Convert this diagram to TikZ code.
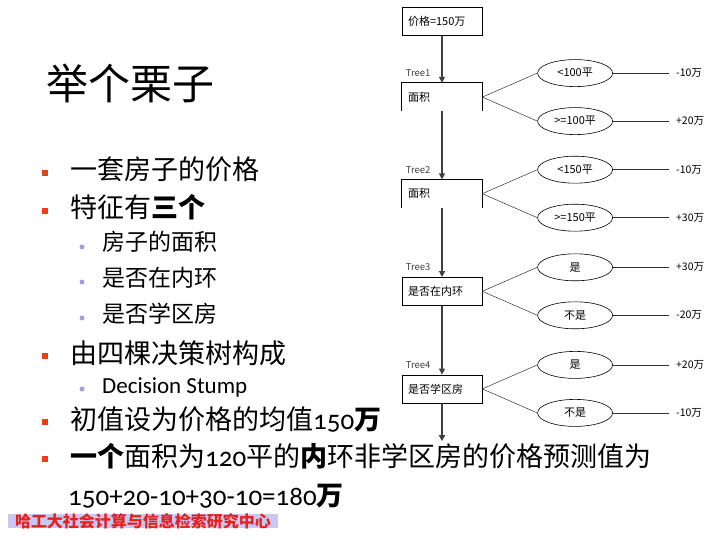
\documentclass[tikz,border=0pt]{standalone}
\usepackage{fontspec}
\usetikzlibrary{positioning,arrows.meta,shapes.geometric}
\setmainfont{Noto Sans CJK SC}
\newfontfamily\lat{Carlito}[Numbers=OldStyle]
\definecolor{bulletred}{HTML}{E8401C}
\definecolor{dotblue}{HTML}{A0A0E0}
\definecolor{bandblue}{HTML}{C8C8F2}
\definecolor{footred}{HTML}{E8201C}
\definecolor{treeline}{HTML}{404040}
\newcommand{\num}[1]{{\lat #1}}

\begin{document}
\begin{tikzpicture}[x=1pt,y=-1pt,
  lvone/.style={anchor=base west,inner sep=0pt,font=\fontsize{27}{30}\selectfont},
  lvtwo/.style={anchor=base west,inner sep=0pt,font=\fontsize{23}{26}\selectfont},
  sqbullet/.style={fill=bulletred,minimum size=6.5pt,inner sep=0pt},
  dotbullet/.style={circle,fill=dotblue,minimum size=5pt,inner sep=0pt},
  tbox/.style={minimum height=28pt,text width=68pt,inner xsep=6pt,inner ysep=0pt,line width=0.6pt,font=\fontsize{11}{12}\selectfont},
  leaf/.style={ellipse,draw,line width=0.6pt,minimum width=75pt,minimum height=27pt,inner sep=0pt,font=\fontsize{11}{12}\selectfont},
  val/.style={inner xsep=7pt,inner ysep=0pt,font=\fontsize{10.5}{11}\selectfont},
  tlab/.style={inner sep=0pt,text=black!75,font=\fontsize{9.5}{10}\selectfont},
  down/.style={-{Triangle[length=6pt,width=6pt]},draw=treeline,line width=1.3pt},
  edge/.style={draw=black!80,line width=0.5pt}]
  \useasboundingbox (0,0) rectangle (720,540);
  \node[anchor=base west,inner sep=0pt,font=\fontsize{42}{46}\selectfont] (title) at (46,100) {举个栗子};
  \node[lvone] (p1) at (70,180) {一套房子的价格};
  \node[lvone] (p2) at (70,218) {特征有\textbf{三个}};
  \node[lvtwo] (f1) at (102,251) {房子的面积};
  \node[lvtwo] (f2) at (102,286) {是否在内环};
  \node[lvtwo] (f3) at (102,322) {是否学区房};
  \node[lvone] (p3) at (70,363) {由四棵决策树构成};
  \node[lvtwo] (f4) at (102,393) {\lat Decision Stump};
  \node[lvone] (p4) at (70,429) {初值设为价格的均值\num{150}\textbf{万}};
  \node[lvone] (p5) at (70,466) {\textbf{一个}面积为\num{120}平的\textbf{内}环非学区房的价格预测值为};
  \node[lvone] (p6) at (68,505) {\num{150+20-10+30-10=180}\textbf{万}};
  \foreach \p in {p1,p2,p3,p4,p5} \node[sqbullet] (sq-\p) at ([xshift=-25pt,yshift=7pt]\p.base west) {};
  \foreach \f in {f1,f2,f3,f4} \node[dotbullet] (dot-\f) at ([xshift=-20pt,yshift=4pt]\f.base west) {};
  \node[fill=bandblue,minimum width=270pt,minimum height=14pt,inner sep=0pt] (band) at (143,521) {};
  \node[inner sep=0pt,text=footred,font=\fontsize{16}{17}\selectfont\bfseries] (foot) at (band) {哈工大社会计算与信息检索研究中心};
  \node[tbox,draw] (t0) at (442,21.5) {价格=150万};
  \node[tbox,below=47pt of t0] (t1) {面积};
  \node[tbox,below=68pt of t1] (t2) {面积};
  \node[tbox,draw,below=69pt of t2] (t3) {是否在内环};
  \node[tbox,draw,below=69pt of t3] (t4) {是否学区房};
  \foreach \b in {t1,t2} \draw[line width=0.6pt] (\b.south west) -- (\b.north west) -- (\b.north east) -- (\b.south east);
  \coordinate[below=38pt of t4.south] (tend);
  \foreach \a/\b in {t0/t1,t1/t2,t2/t3,t3/t4,t4/tend} \draw[down] (\a) -- (\b);
  \foreach \t/\n in {t1/1,t2/2,t3/3,t4/4} \node[tlab,above right=6pt and 4pt of \t.north west] (lab-\t) {Tree\n};
  \foreach \t/\hi/\lo/\vhi/\vlo in {t1/<100平/>=100平/-10万/+20万,t2/<150平/>=150平/-10万/+30万,t3/是/不是/+30万/-20万,t4/是/不是/+20万/-10万} {
    \node[leaf,right=55pt of \t.east,yshift=24pt] (\t-hi) {\hi};
    \node[leaf,right=55pt of \t.east,yshift=-24pt] (\t-lo) {\lo};
    \node[val,right=56pt of \t-hi.east] (\t-vhi) {\vhi};
    \node[val,right=56pt of \t-lo.east] (\t-vlo) {\vlo};
    \draw[edge] (\t.east) -- (\t-hi.west);
    \draw[edge] (\t.east) -- (\t-lo.west);
    \draw[edge] (\t-hi.east) -- (\t-vhi.west);
    \draw[edge] (\t-lo.east) -- (\t-vlo.west);
  }
\end{tikzpicture}
\end{document}
